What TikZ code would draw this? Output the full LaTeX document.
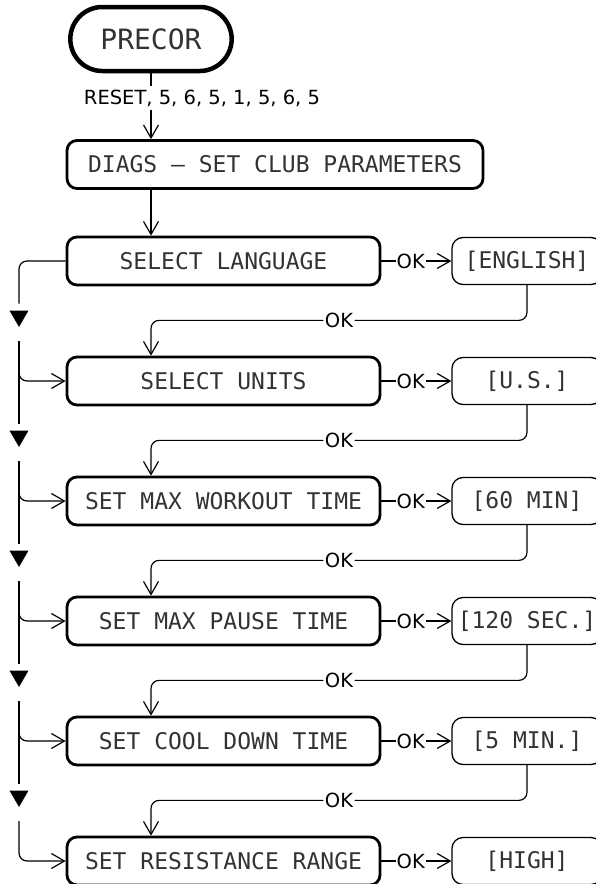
\documentclass[tikz,border=0pt]{standalone}
\usepackage{fontspec}
\setmainfont{DejaVu Sans}
\newfontfamily\lcdfont{DejaVu Sans Mono}
\usepackage{tikz}
\usetikzlibrary{positioning,calc,arrows.meta}
\usetikzlibrary{shapes.misc,shapes.geometric}

\tikzset{
  startbox/.style={rounded rectangle, draw, line width=4.5pt,
    minimum width=168pt, minimum height=64pt, text=black!80,
    font=\lcdfont\fontsize{28pt}{30pt}\selectfont},
  stepbox/.style={draw, line width=2.8pt, rounded corners=10pt,
    minimum width=313pt, minimum height=48pt, text=black!80,
    font=\lcdfont\fontsize{23pt}{25pt}\selectfont},
  widebox/.style={stepbox, minimum width=416pt},
  valbox/.style={draw, line width=1.3pt, rounded corners=11pt,
    minimum width=150pt, minimum height=47pt, text=black!80,
    font=\lcdfont\fontsize{23pt}{25pt}\selectfont},
  okl/.style={fill=white, inner sep=1pt,
    font=\fontsize{19.5pt}{21pt}\selectfont},
  tri/.style={regular polygon, regular polygon sides=3,
    shape border rotate=180, fill=black, inner sep=0pt,
    minimum size=22pt, outer sep=7pt},
  arr/.style={-{Straight Barb[length=13pt,width=15pt]}},
}

\begin{document}
\begin{tikzpicture}[x=1pt,y=-1pt,line width=1.2pt]
  \useasboundingbox (0,0) rectangle (595,884);

  % Start and entry box
  \node[startbox] (precor) at (151,39) {PRECOR};
  \node[widebox] (diags) at (275,164.5) {DIAGS – SET CLUB PARAMETERS};

  % Parameter steps
  \node[stepbox] (lang) at (223.5,261) {SELECT LANGUAGE};
  \node[stepbox] (units) at (223.5,381) {SELECT UNITS};
  \node[stepbox] (work) at (223.5,501) {SET MAX WORKOUT TIME};
  \node[stepbox] (pause) at (223.5,621) {SET MAX PAUSE TIME};
  \node[stepbox] (cool) at (223.5,741) {SET COOL DOWN TIME};
  \node[stepbox] (resist) at (223.5,861) {SET RESISTANCE RANGE};

  % Default values
  \node[valbox] (eng) at (527,261) {[ENGLISH]};
  \node[valbox] (us) at (527,381) {[U.S.]};
  \node[valbox] (wmin) at (527,501) {[60 MIN]};
  \node[valbox] (psec) at (527,621) {[120 SEC.]};
  \node[valbox] (cmin) at (527,741) {[5 MIN.]};
  \node[valbox] (high) at (527,861) {[HIGH]};

  % Skip markers on the left
  \node[tri] (t1) at (19,316) {};
  \node[tri] (t2) at (19,436) {};
  \node[tri] (t3) at (19,556) {};
  \node[tri] (t4) at (19,676) {};
  \node[tri] (t5) at (19,796) {};

  % Entry
  \draw[arr] (precor.south) -- (diags.north -| precor);
  \node[okl, inner sep=4pt] (code) at (202,98) {RESET, 5, 6, 5, 1, 5, 6, 5};
  \draw[arr] (diags.south -| precor) -- (lang.north -| precor);

  % OK to the values
  \draw[arr] (lang.east) -- node[okl, pos=0.42] {OK} (eng.west);
  \draw[arr] (units.east) -- node[okl, pos=0.42] {OK} (us.west);
  \draw[arr] (work.east) -- node[okl, pos=0.42] {OK} (wmin.west);
  \draw[arr] (pause.east) -- node[okl, pos=0.42] {OK} (psec.west);
  \draw[arr] (cool.east) -- node[okl, pos=0.42] {OK} (cmin.west);
  \draw[arr] (resist.east) -- node[okl, pos=0.42] {OK} (high.west);

  % OK back to the next step
  \node[okl] (r1) at ($(eng.south)!0.5!(units.north -| precor)$) {OK};
  \node[okl] (r2) at ($(us.south)!0.5!(work.north -| precor)$) {OK};
  \node[okl] (r3) at ($(wmin.south)!0.5!(pause.north -| precor)$) {OK};
  \node[okl] (r4) at ($(psec.south)!0.5!(cool.north -| precor)$) {OK};
  \node[okl] (r5) at ($(cmin.south)!0.5!(resist.north -| precor)$) {OK};
  \draw[rounded corners=8pt] (eng.south) |- (r1.east);
  \draw[arr, rounded corners=8pt] (r1.west) -| (units.north -| precor);
  \draw[rounded corners=8pt] (us.south) |- (r2.east);
  \draw[arr, rounded corners=8pt] (r2.west) -| (work.north -| precor);
  \draw[rounded corners=8pt] (wmin.south) |- (r3.east);
  \draw[arr, rounded corners=8pt] (r3.west) -| (pause.north -| precor);
  \draw[rounded corners=8pt] (psec.south) |- (r4.east);
  \draw[arr, rounded corners=8pt] (r4.west) -| (cool.north -| precor);
  \draw[rounded corners=8pt] (cmin.south) |- (r5.east);
  \draw[arr, rounded corners=8pt] (r5.west) -| (resist.north -| precor);

  % Skip line down the left side
  \draw[rounded corners=8pt] (lang.west) -| (t1.north);
  \draw[arr, rounded corners=8pt] (t1.south) |- (units.west);
  \draw (t1.south) -- (t2.north);
  \draw[arr, rounded corners=8pt] (t2.south) |- (work.west);
  \draw (t2.south) -- (t3.north);
  \draw[arr, rounded corners=8pt] (t3.south) |- (pause.west);
  \draw (t3.south) -- (t4.north);
  \draw[arr, rounded corners=8pt] (t4.south) |- (cool.west);
  \draw (t4.south) -- (t5.north);
  \draw[arr, rounded corners=8pt] (t5.south) |- (resist.west);
\end{tikzpicture}
\end{document}
